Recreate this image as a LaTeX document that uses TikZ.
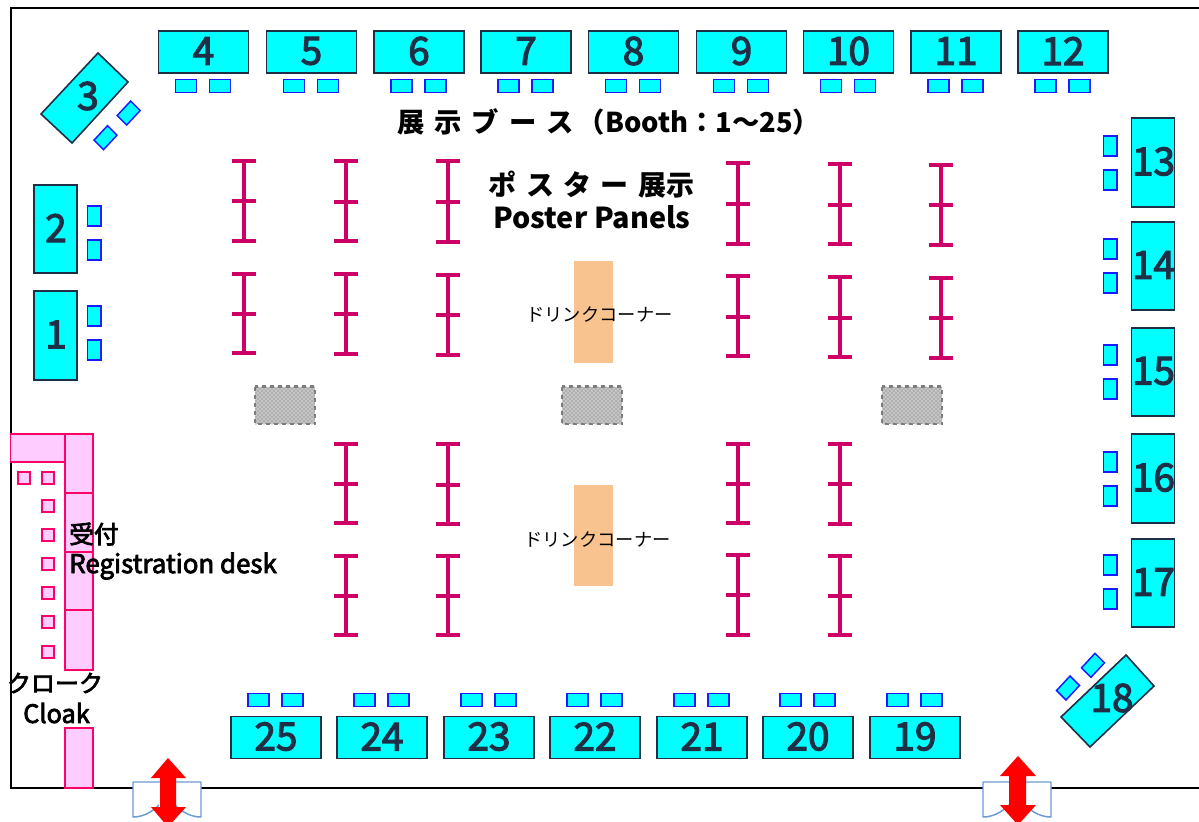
\documentclass[tikz,border=0pt]{standalone}
\usepackage{fontspec}
\setmainfont{Noto Sans CJK JP}
\newfontfamily\jpm[FakeBold=3]{Noto Sans CJK JP}
\usetikzlibrary{patterns}
\definecolor{boothc}{HTML}{00FFFF}
\definecolor{boothline}{HTML}{1F2F45}
\definecolor{chairline}{HTML}{1A1AFF}
\definecolor{pinkfill}{HTML}{FFCCFF}
\definecolor{pinkline}{HTML}{FF0066}
\definecolor{panelc}{HTML}{CC0066}
\definecolor{drinkc}{HTML}{F9C38F}
\definecolor{doorc}{HTML}{6C9BD2}
\tikzset{
 booth/.style={draw=boothline,fill=boothc,line width=1.2pt},
 boothtext/.style={text=boothline,font=\jpm\fontsize{29}{29}\selectfont,inner sep=0pt},
 chair/.style={draw=chairline,fill=boothc,line width=1.1pt},
 pinkbox/.style={draw=pinkline,fill=pinkfill,line width=1.1pt},
 smallpink/.style={draw=pinkline,fill=pinkfill,line width=1.5pt},
 panel/.style={draw=panelc,line width=3pt},
 bar/.style={draw=panelc,line width=2.6pt},
 drink/.style={fill=drinkc},
 grayblock/.style={draw=gray,dashed,line width=1.6pt,fill=gray!45,postaction={pattern=crosshatch dots,pattern color=gray!80!black}},
 door/.style={draw=doorc,fill=white,line width=1.1pt,line join=round},
 arrowred/.style={fill=red},
 label/.style={inner sep=0pt,text=black},
}
\newcommand{\hbooth}[3]{% number, left x, top y
 \draw[booth] (#2,#3) rectangle +(90,42);
 \node[boothtext] (b#1) at (#2+45,#3+20) {#1};}
\newcommand{\vbooth}[4]{% number, left, top, bottom
 \draw[booth] (#2,#3) rectangle (#2+43,#4);
 \node[boothtext] (b#1) at (#2+22,{(#3+#4)/2-1}) {#1};}
\newcommand{\hchairs}[3]{% x1, x2, y
 \draw[chair] (#1,#3) rectangle +(21,13);
 \draw[chair] (#2,#3) rectangle +(21,13);}
\newcommand{\vchairs}[3]{% x, y1, y2
 \draw[chair] (#1,#2) rectangle +(13.5,20);
 \draw[chair] (#1,#3) rectangle +(13.5,20);}
\newcommand{\ibeam}[4]{% x, top, mid, bottom
 \draw[panel] (#1,#2) -- (#1,#4);
 \draw[bar] (#1-12,#2) -- (#1+12,#2) (#1-12,#3) -- (#1+12,#3) (#1-12,#4) -- (#1+12,#4);}
\newcommand{\dchair}[2]{% rotated chair centre
 \draw[chair] (#1+2,#2-12) -- (#1+11.5,#2-2.5) -- (#1-2,#2+12) -- (#1-11.5,#2+2.5) -- cycle;}
\newcommand{\exitdoor}[2]{% left x, arrow centre x
 \fill[white] (#1,782) rectangle (#1+68,806);
 \draw[door] (#1+26,805) .. controls (#1+18,813) and (#1+9,817) .. (#1,817) -- (#1,782) -- (#1+68,782) -- (#1+68,817) .. controls (#1+59,817) and (#1+50,813) .. (#1+42,805);
}
\begin{document}
\begin{tikzpicture}[x=0.75pt,y=-0.75pt]
\useasboundingbox (0,0) rectangle (1199,821);
\clip (0,0) rectangle (1199,821);
\fill[white] (0,0) rectangle (1199,821);
% room
\draw[black,line width=1.5pt] (1199,8) -- (10.5,8) -- (10.5,788) -- (1199,788);
% top booths
\foreach \n/\x in {4/158.5,5/266.5,6/374,7/481,8/588.5,9/696.5,10/803.5,11/911,12/1018}{
 \hbooth{\n}{\x}{31}
 \hchairs{\x+17}{\x+51}{79.5}
}
% bottom booths
\foreach \n/\x in {25/231,24/337,23/444,22/550,21/657,20/763,19/870}{
 \hbooth{\n}{\x}{716.5}
 \hchairs{\x+17}{\x+51}{693.5}
}
% left booths
\vbooth{2}{34}{185}{273}
\vbooth{1}{34}{291}{380}
\vchairs{87.5}{206}{240}
\vchairs{87.5}{306}{340}
% right booths
\vbooth{13}{1131.5}{118}{207}
\vbooth{14}{1131.5}{222}{310}
\vbooth{15}{1131.5}{328}{416}
\vbooth{16}{1131.5}{434}{523}
\vbooth{17}{1131.5}{539}{627}
\vchairs{1103.5}{136}{170}
\vchairs{1103.5}{239}{273}
\vchairs{1103.5}{345}{379}
\vchairs{1103.5}{452}{486}
\vchairs{1103.5}{555}{589}
% diagonal booths
\draw[booth] (98,53) -- (128,82) -- (72,143) -- (41,114) -- cycle;
\node[boothtext] (b3) at (88,96) {3};
\dchair{128.7}{113}
\dchair{105.5}{137.7}
\draw[booth] (1126,655) -- (1154,686) -- (1090,747) -- (1061,717) -- cycle;
\node[boothtext] (b18) at (1112,698) {18};
\dchair{1093}{665.3}
\dchair{1068}{688}
% poster panels
\ibeam{244}{161}{201}{241}
\ibeam{346}{161}{202}{241}
\ibeam{448}{161}{202}{242}
\ibeam{738}{163}{204}{244}
\ibeam{840}{164}{205}{244}
\ibeam{941}{165}{205}{245}
\ibeam{244}{274}{314}{353}
\ibeam{346}{274}{314}{354}
\ibeam{448}{275}{315}{355}
\ibeam{738}{276}{317}{356}
\ibeam{840}{277}{318}{357}
\ibeam{941}{278}{318}{358}
\ibeam{346}{444}{484}{523}
\ibeam{448}{444}{485}{524}
\ibeam{738}{444}{484}{523}
\ibeam{840}{444}{484}{524}
\ibeam{346}{556}{596}{635}
\ibeam{448}{556}{596}{635}
\ibeam{738}{555}{595}{635}
\ibeam{840}{556}{596}{635}
% drink corners
\fill[drink] (574,261) rectangle (613,363);
\fill[drink] (574,485) rectangle (613,586);
\node[label,font=\fontsize{13.7}{14}\selectfont] (d1) at (599.5,315) {ドリンクコーナー};
\node[label,font=\fontsize{13.7}{14}\selectfont] (d2) at (597.5,540) {ドリンクコーナー};
% grey blocks
\draw[grayblock] (255,386.5) rectangle (315,424);
\draw[grayblock] (562,386.5) rectangle (622,424);
\draw[grayblock] (882,386.5) rectangle (942,424);
% registration
\draw[pinkbox] (10.5,434) rectangle (65,462);
\draw[pinkbox] (65,434) rectangle (93,493);
\draw[pinkbox] (65,493) rectangle (93,552);
\draw[pinkbox] (65,552) rectangle (93,610);
\draw[pinkbox] (65,610) rectangle (93,670);
\draw[pinkbox] (65,728) rectangle (93,788);
\foreach \x/\y in {17.5/471.5,41.5/471.5,41.5/499.5,41.5/529,41.5/557.5,41.5/586.5,41.5/616,41.5/646}{
 \draw[smallpink] (\x,\y) rectangle +(12,12);
}
\node[label,anchor=west,font=\jpm\fontsize{18.5}{20}\selectfont] (r1) at (69,534) {受付};
\node[label,anchor=west,font=\jpm\fontsize{19.4}{20}\selectfont] (r2) at (69,566) {Registration desk};
\node[label,font=\jpm\fontsize{18}{20}\selectfont] (c1) at (55,683) {クローク};
\node[label,font=\jpm\fontsize{19}{20}\selectfont] (c2) at (56.5,713) {Cloak};
% titles
\node[label,anchor=west,font=\bfseries\fontsize{20.5}{22}\selectfont] (t1) at (397,122) {展\hspace{7.5pt}示\hspace{7.5pt}ブ\hspace{7.5pt}ー\hspace{7.5pt}ス\hspace{3pt}（Booth：1～25）};
\node[label,font=\bfseries\fontsize{21}{22}\selectfont] (t2) at (591.5,185) {ポ\hspace{7pt}ス\hspace{7pt}タ\hspace{7pt}ー\hspace{7pt}展示};
\node[label,font=\bfseries\fontsize{21.6}{22}\selectfont] (t3) at (592,217) {Poster Panels};
% exits
\exitdoor{133}{168}
\exitdoor{983}{1018}
\fill[arrowred] (168,758) -- (186,778) -- (176,778) -- (176,807) -- (186,807) -- (168,827) -- (151,807) -- (160,807) -- (160,778) -- (151,778) -- cycle;
\fill[arrowred] (1018,756) -- (1036,776) -- (1026,776) -- (1026,805) -- (1036,805) -- (1018,825) -- (1000,805) -- (1009,805) -- (1009,776) -- (1000,776) -- cycle;
\end{tikzpicture}
\end{document}
